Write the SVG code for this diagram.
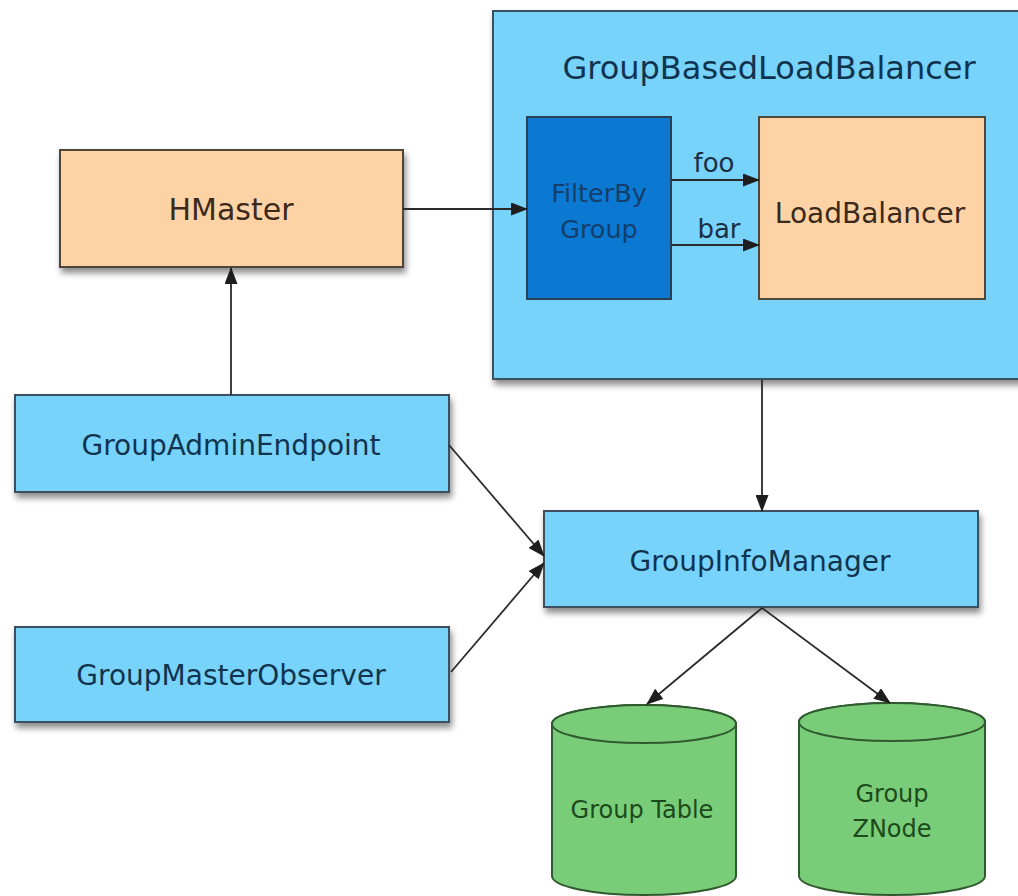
<svg xmlns="http://www.w3.org/2000/svg" width="1018" height="896" viewBox="0 0 1018 896">
  <defs>
    <filter id="shadow" x="-10%" y="-10%" width="130%" height="140%">
      <feDropShadow dx="2" dy="5" stdDeviation="3" flood-color="#000" flood-opacity="0.45"/>
    </filter>
    <marker id="arrow" markerUnits="userSpaceOnUse" markerWidth="17" markerHeight="13" refX="16" refY="6.5" orient="auto">
      <path d="M0,0 L17,6.5 L0,13 z" fill="#1e1e1e"/>
    </marker>
    <style>
      .lbl { font-family: "DejaVu Sans", "Noto Sans", sans-serif; text-anchor: middle; }
      .blue { fill: #78d3fb; stroke: #3c4f5e; stroke-width: 2; }
      .dark { fill: #0b78d2; stroke: #2b3f55; stroke-width: 2; }
      .peach { fill: #fdd3a5; stroke: #4f4538; stroke-width: 2; }
      .green { fill: #7acd78; stroke: #2f5a2f; stroke-width: 2; }
      .tblue { fill: #10344f; font-size: 28px; }
      .tpeach { fill: #3b2a1c; font-size: 28px; }
      .tgreen { fill: #1c4a1c; font-size: 24px; }
      .tinner { fill: #143f6a; font-size: 25.5px; }
      .tedge { fill: #1b2f44; font-size: 26px; }
      .conn { fill: none; stroke: #2a2a2a; stroke-width: 1.8; marker-end: url(#arrow); }
    </style>
  </defs>

  <rect width="1018" height="896" fill="#ffffff"/>

  <!-- balancer container with its two inner stages -->
  <g id="group-based-load-balancer">
    <rect class="blue" x="493" y="11" width="540" height="368" filter="url(#shadow)"/>
    <text class="lbl tblue" x="769" y="79" style="font-size:32px">GroupBasedLoadBalancer</text>
  </g>
  <g id="filter-by-group">
    <rect class="dark" x="527" y="117" width="144" height="182"/>
    <text class="lbl tinner" x="599" y="202">FilterBy</text>
    <text class="lbl tinner" x="599" y="238">Group</text>
  </g>
  <g id="load-balancer">
    <rect class="peach" x="759" y="117" width="226" height="182"/>
    <text class="lbl tpeach" x="870" y="223">LoadBalancer</text>
  </g>

  <g id="hmaster">
    <rect class="peach" x="60" y="150" width="343" height="117" filter="url(#shadow)"/>
    <text class="lbl tpeach" x="231" y="220" style="font-size:30px">HMaster</text>
  </g>

  <g id="group-admin-endpoint">
    <rect class="blue" x="15" y="395" width="434" height="97" filter="url(#shadow)"/>
    <text class="lbl tblue" x="231" y="455">GroupAdminEndpoint</text>
  </g>

  <g id="group-master-observer">
    <rect class="blue" x="15" y="627" width="434" height="95" filter="url(#shadow)"/>
    <text class="lbl tblue" x="231" y="685">GroupMasterObserver</text>
  </g>

  <g id="group-info-manager">
    <rect class="blue" x="544" y="511" width="434" height="96" filter="url(#shadow)"/>
    <text class="lbl tblue" x="760" y="571">GroupInfoManager</text>
  </g>

  <!-- storage cylinders -->
  <g id="group-table">
    <path class="green" d="M552,724 L552,876 A92,19 0 0 0 736,876 L736,724 A92,19 0 0 0 552,724 Z"/>
    <ellipse class="green" cx="644" cy="724" rx="92" ry="19"/>
    <text class="lbl tgreen" x="642" y="818">Group Table</text>
  </g>
  <g id="group-znode">
    <path class="green" d="M799,722 L799,876 A93,19 0 0 0 985,876 L985,722 A93,19 0 0 0 799,722 Z"/>
    <ellipse class="green" cx="892" cy="722" rx="93" ry="19"/>
    <text class="lbl tgreen" x="892" y="802">Group</text>
    <text class="lbl tgreen" x="892" y="837">ZNode</text>
  </g>

  <g id="connectors">
    <path class="conn" d="M403,209 L527,209"/>
    <path class="conn" d="M671,180 L759,180"/>
    <path class="conn" d="M671,245 L759,245"/>
    <path class="conn" d="M231,395 L231,268"/>
    <path class="conn" d="M762,380 L762,511"/>
    <path class="conn" d="M449,445 L544,556"/>
    <path class="conn" d="M451,672 L544,563"/>
    <path class="conn" d="M762,608 L647,704"/>
    <path class="conn" d="M762,608 L890,703"/>
    <text class="lbl tedge" x="714" y="172">foo</text>
    <text class="lbl tedge" x="719" y="238">bar</text>
  </g>
</svg>
